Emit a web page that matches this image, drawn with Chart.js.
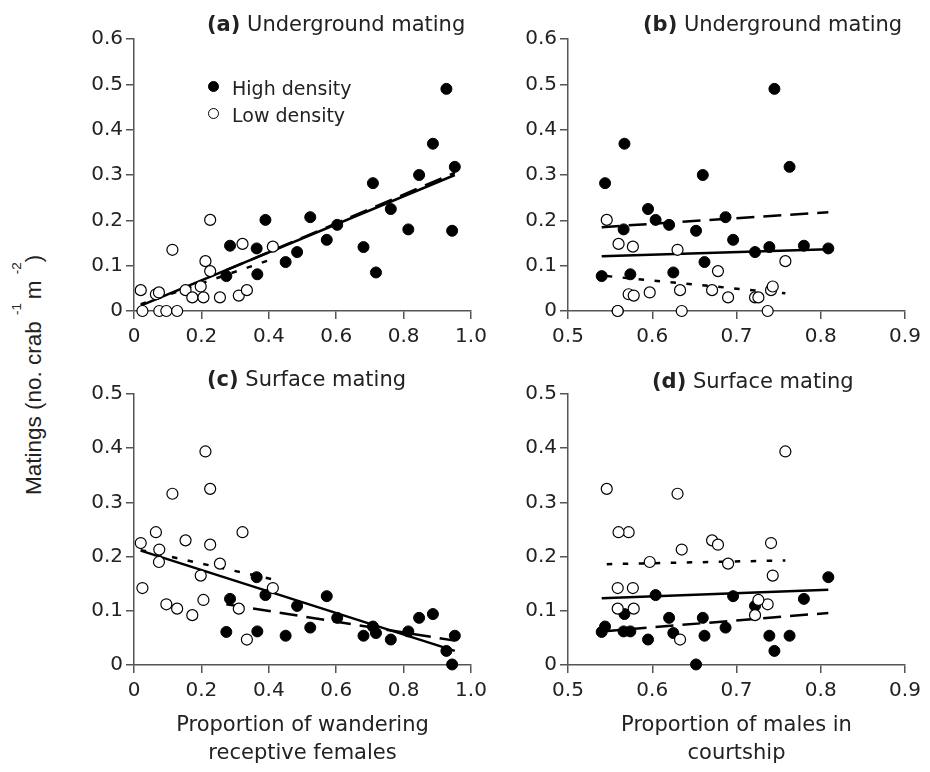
<!DOCTYPE html>
<html>
<head>
<meta charset="utf-8">
<script src="https://cdn.jsdelivr.net/npm/chart.js@4.4.1/dist/chart.umd.min.js"></script>
<style>
  html, body { margin: 0; padding: 0; background: #fff; }
  #page { position: relative; width: 930px; height: 772px; overflow: hidden; font-family: 'DejaVu Sans', sans-serif; color: #222; }
  canvas { position: absolute; }
  .panel-title { position: absolute; font-size: 21px; line-height: 1; white-space: nowrap; }
  #ytitle { position: absolute; left: 23px; top: 495px; transform: rotate(-90deg); transform-origin: 0 0;
            font-family: 'Liberation Sans', Arial, sans-serif; font-size: 22.5px; line-height: 1; white-space: nowrap; }
  #ytitle sup { font-size: 13.5px; vertical-align: baseline; position: relative; top: -20px; }
  .legend-text { position: absolute; font-size: 19px; line-height: 1; white-space: nowrap; }
  .dot { position: absolute; width: 11px; height: 11px; border-radius: 50%; box-sizing: border-box; border: 1.2px solid #000; }
</style>
</head>
<body>
<div id="page">
  <canvas id="chartA" width="420" height="330" style="left:70px;top:25px;width:420px;height:330px"></canvas>
  <canvas id="chartB" width="420" height="330" style="left:504px;top:25px;width:420px;height:330px"></canvas>
  <canvas id="chartC" width="420" height="392" style="left:70px;top:380px;width:420px;height:392px"></canvas>
  <canvas id="chartD" width="420" height="392" style="left:504px;top:380px;width:420px;height:392px"></canvas>

  <div class="panel-title" style="left:207px;top:14px"><b>(a)</b> Underground mating</div>
  <div class="panel-title" style="left:643px;top:14px"><b>(b)</b> Underground mating</div>
  <div class="panel-title" style="left:207px;top:369px"><b>(c)</b> Surface mating</div>
  <div class="panel-title" style="left:652px;top:371px"><b>(d)</b> Surface mating</div>

  <div id="ytitle">Matings (no. crab <sup>-1 </sup>m <sup>-2</sup>)</div>

  <div class="dot" style="left:207.5px;top:80.5px;background:#000"></div>
  <div class="legend-text" style="left:232px;top:79px">High density</div>
  <div class="dot" style="left:207.5px;top:107.8px;background:#fff"></div>
  <div class="legend-text" style="left:232px;top:106px">Low density</div>
</div>

<script>
// one entry per sample: proportion of wandering receptive females, proportion of males in courtship,
// underground matings, surface matings
const highFemales = [0.274, 0.285, 0.364, 0.366, 0.390, 0.450, 0.484, 0.523, 0.572, 0.603,
                     0.681, 0.709, 0.718, 0.762, 0.814, 0.846, 0.887, 0.927, 0.944, 0.952];
const highMales   = [0.540, 0.780, 0.809, 0.574, 0.604, 0.662, 0.722, 0.687, 0.696, 0.620,
                     0.739, 0.544, 0.625, 0.595, 0.566, 0.660, 0.567, 0.745, 0.652, 0.763];
const highUnder   = [0.077, 0.144, 0.138, 0.081, 0.201, 0.108, 0.130, 0.207, 0.157, 0.190,
                     0.141, 0.282, 0.085, 0.225, 0.180, 0.300, 0.369, 0.490, 0.177, 0.318];
const highSurface = [0.061, 0.122, 0.162, 0.062, 0.129, 0.054, 0.109, 0.069, 0.127, 0.087,
                     0.054, 0.071, 0.059, 0.047, 0.062, 0.087, 0.094, 0.026, 0.001, 0.054];

const lowFemales = [0.020, 0.025, 0.065, 0.074, 0.075, 0.096, 0.114, 0.128, 0.153, 0.173,
                    0.198, 0.206, 0.212, 0.226, 0.226, 0.255, 0.311, 0.322, 0.335, 0.412];
const lowMales   = [0.741, 0.559, 0.572, 0.597, 0.635, 0.737, 0.630, 0.559, 0.671, 0.722,
                    0.743, 0.726, 0.758, 0.678, 0.546, 0.690, 0.578, 0.560, 0.633, 0.577];
const lowUnder   = [0.046, 0.000, 0.037, 0.041, 0.000, 0.000, 0.135, 0.000, 0.046, 0.030,
                    0.054, 0.030, 0.110, 0.088, 0.201, 0.030, 0.034, 0.148, 0.046, 0.142];
const lowSurface = [0.225, 0.142, 0.245, 0.190, 0.213, 0.112, 0.316, 0.104, 0.230, 0.092,
                    0.165, 0.120, 0.394, 0.222, 0.325, 0.187, 0.104, 0.245, 0.047, 0.142];

// regression lines: [start, end] as [x, y]
const lineAllA  = [[0.020, 0.012], [0.952, 0.300]];
const lineHighA = [[0.274, 0.090], [0.952, 0.305]];
const lineLowA  = [[0.020, 0.015], [0.412, 0.115]];
const lineAllB  = [[0.540, 0.121], [0.809, 0.136]];
const lineHighB = [[0.540, 0.185], [0.809, 0.218]];
const lineLowB  = [[0.546, 0.077], [0.758, 0.039]];
const lineAllC  = [[0.020, 0.211], [0.952, 0.026]];
const lineHighC = [[0.274, 0.112], [0.952, 0.045]];
const lineLowC  = [[0.020, 0.212], [0.412, 0.158]];
const lineAllD  = [[0.540, 0.123], [0.809, 0.139]];
const lineHighD = [[0.540, 0.062], [0.809, 0.096]];
const lineLowD  = [[0.546, 0.186], [0.758, 0.193]];

const femaleTicks = [0, 0.2, 0.4, 0.6, 0.8, 1.0];
const femaleTickLabels = ['0', '0.2', '0.4', '0.6', '0.8', '1.0'];
const maleTicks = [0.5, 0.6, 0.7, 0.8, 0.9];
const maleTickLabels = ['0.5', '0.6', '0.7', '0.8', '0.9'];
const underTicks = [0, 0.1, 0.2, 0.3, 0.4, 0.5, 0.6];
const underTickLabels = ['0', '0.1', '0.2', '0.3', '0.4', '0.5', '0.6'];
const surfaceTicks = [0, 0.1, 0.2, 0.3, 0.4, 0.5];
const surfaceTickLabels = ['0', '0.1', '0.2', '0.3', '0.4', '0.5'];

const femaleTitle = ['Proportion of wandering', 'receptive females'];
const maleTitle = ['Proportion of males in', 'courtship'];

const axisColor = '#555';
const textColor = '#222';
const family = "'DejaVu Sans', sans-serif";

function pairs(xs, ys) {
  return xs.map((x, i) => ({x: x, y: ys[i]}));
}

function segment(line) {
  return line.map(p => ({x: p[0], y: p[1]}));
}

function axis(ticks, labels, isX, size, title) {
  return {
    type: 'linear',
    min: ticks[0],
    max: ticks[ticks.length - 1],
    afterBuildTicks: s => { s.ticks = ticks.map(v => ({value: v})); },
    afterFit: s => {
      if (isX) { s.height = size; s.paddingLeft = 0; s.paddingRight = 0; }
      else { s.width = size; s.paddingTop = 0; s.paddingBottom = 0; }
    },
    grid: { drawOnChartArea: false, drawTicks: true, tickLength: 8, color: axisColor, lineWidth: 1.5 },
    border: { display: true, color: axisColor, width: 1.5 },
    ticks: {
      autoSkip: false, maxRotation: 0, padding: isX ? 6 : 3, color: textColor,
      font: { family: family, size: 20 },
      callback: (v, i) => labels[i]
    },
    title: title ? {
      display: true, text: title, color: textColor,
      font: { family: family, size: 21, lineHeight: 1.35 },
      padding: { top: 0, bottom: 4 }
    } : { display: false }
  };
}

function chartBuild(id, xLow, yLow, xHigh, yHigh, lines, xAxis, yAxis) {
  const [lineAll, lineHigh, lineLow] = lines;
  const lineStyle = { showLine: true, borderColor: '#000', borderWidth: 2.5, pointRadius: 0, clip: false };

  const datasets = [
    { label: 'Low density', data: pairs(xLow, yLow), backgroundColor: '#fff', borderColor: '#000',
      borderWidth: 1.2, pointRadius: 5.5, clip: false },
    { label: 'High density', data: pairs(xHigh, yHigh), backgroundColor: '#000', borderColor: '#000',
      borderWidth: 1, pointRadius: 5.5, clip: false },
    Object.assign({ label: 'All', data: segment(lineAll) }, lineStyle),
    Object.assign({ label: 'High fit', data: segment(lineHigh), borderDash: [18, 9] }, lineStyle),
    Object.assign({ label: 'Low fit', data: segment(lineLow), borderDash: [5.5, 10.5] }, lineStyle)
  ];

  new Chart(document.getElementById(id), {
    type: 'scatter',
    data: { datasets: datasets },
    options: {
      responsive: false,
      animation: false,
      events: [],
      layout: { padding: { top: 14, right: 19, bottom: 0, left: 0 } },
      plugins: { legend: { display: false }, tooltip: { enabled: false } },
      scales: { x: xAxis, y: yAxis }
    }
  });
}

chartBuild('chartA', lowFemales, lowUnder, highFemales, highUnder,
  [lineAllA, lineHighA, lineLowA],
  axis(femaleTicks, femaleTickLabels, true, 44), axis(underTicks, underTickLabels, false, 64));

chartBuild('chartB', lowMales, lowUnder, highMales, highUnder,
  [lineAllB, lineHighB, lineLowB],
  axis(maleTicks, maleTickLabels, true, 44), axis(underTicks, underTickLabels, false, 64));

chartBuild('chartC', lowFemales, lowSurface, highFemales, highSurface,
  [lineAllC, lineHighC, lineLowC],
  axis(femaleTicks, femaleTickLabels, true, 107, femaleTitle), axis(surfaceTicks, surfaceTickLabels, false, 64));

chartBuild('chartD', lowMales, lowSurface, highMales, highSurface,
  [lineAllD, lineHighD, lineLowD],
  axis(maleTicks, maleTickLabels, true, 107, maleTitle), axis(surfaceTicks, surfaceTickLabels, false, 64));
</script>
</body>
</html>
